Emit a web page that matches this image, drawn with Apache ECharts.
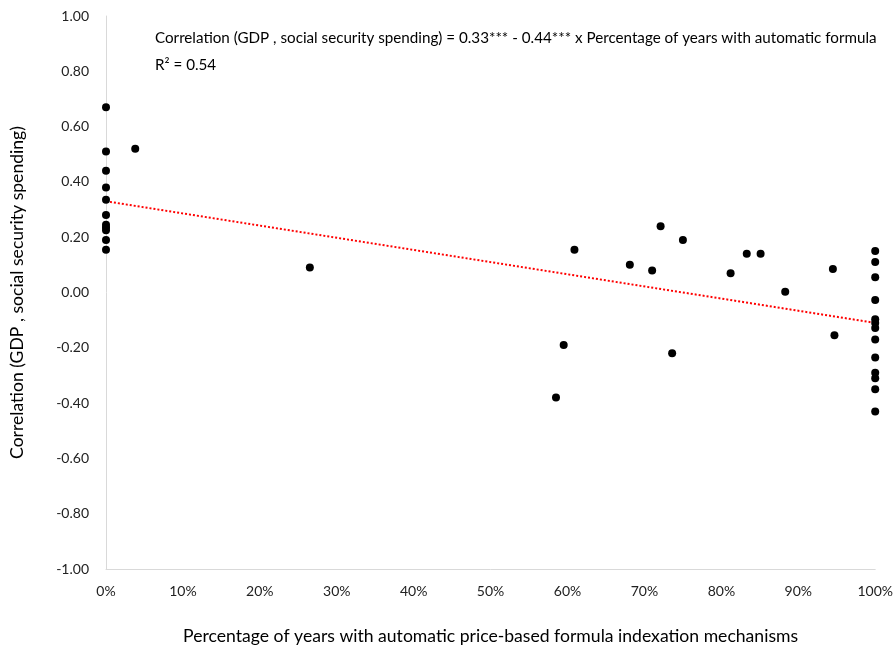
<!DOCTYPE html>
<html lang="en">
<head>
    <meta charset="UTF-8">
    <title>Correlation vs automatic indexation</title>
    <style>
        html, body { margin: 0; padding: 0; background: #fff; }
        #main { width: 896px; height: 651px; }
    </style>
</head>
<body>
    <div id="main"></div>
    <script src="https://cdn.jsdelivr.net/npm/echarts@6/dist/echarts.min.js"></script>
    <script>
    // share of years with automatic formula (0..1)
    var shareYears = [
        0, 0, 0, 0, 0, 0, 0, 0, 0, 0, 0,
        0.038, 0.265,
        0.585, 0.595, 0.609, 0.681, 0.710, 0.721, 0.736, 0.750,
        0.812, 0.833, 0.851, 0.883, 0.945, 0.947,
        1, 1, 1, 1, 1, 1, 1, 1, 1, 1, 1, 1, 1
    ];
    // correlation GDP / social security spending
    var corrValues = [
        0.67, 0.51, 0.44, 0.38, 0.335, 0.28, 0.245, 0.235, 0.225, 0.19, 0.155,
        0.52, 0.09,
        -0.38, -0.19, 0.155, 0.10, 0.08, 0.24, -0.22, 0.19,
        0.07, 0.14, 0.14, 0.003, 0.085, -0.155,
        0.15, 0.11, 0.055, -0.027, -0.097, -0.11, -0.128, -0.17, -0.235, -0.29, -0.31, -0.35, -0.43
    ];
    // fitted line: 0.33 - 0.44 x
    var intercept = 0.33;
    var slope = -0.44;
    var fitX = [0, 1];

    var points = [];
    for (var i = 0; i < shareYears.length; i++) {
        points.push([shareYears[i], corrValues[i]]);
    }
    var fitLine = fitX.map(function (x) { return [x, intercept + slope * x]; });

    var font = 'Lato, "Open Sans", sans-serif';
    var chart = echarts.init(document.getElementById('main'));
    chart.setOption({
        animation: false,
        textStyle: { fontFamily: font },
        grid: { left: 105, right: 19, top: 16, bottom: 82 },
        xAxis: {
            type: 'value',
            min: 0, max: 1, interval: 0.1,
            name: 'Percentage of years with automatic price-based formula indexation mechanisms',
            nameLocation: 'middle',
            nameGap: 58,
            nameTextStyle: { fontSize: 17.6, color: '#000', fontFamily: font },
            axisLine: { show: true, onZero: false, lineStyle: { color: '#d9d9d9', width: 1 } },
            axisTick: { show: false },
            splitLine: { show: false },
            axisLabel: {
                margin: 15, fontSize: 14, color: '#222', fontFamily: font,
                formatter: function (v) { return Math.round(v * 100) + '%'; }
            }
        },
        yAxis: {
            type: 'value',
            min: -1, max: 1, interval: 0.2,
            name: 'Correlation (GDP , social security spending)',
            nameLocation: 'middle',
            nameGap: 80,
            nameTextStyle: { fontSize: 17.6, color: '#000', fontFamily: font },
            axisLine: { show: true, onZero: false, lineStyle: { color: '#d9d9d9', width: 1 } },
            axisTick: { show: false },
            splitLine: { show: false },
            axisLabel: {
                margin: 17, fontSize: 14, color: '#222', fontFamily: font,
                formatter: function (v) { return v.toFixed(2); }
            }
        },
        graphic: [
            {
                type: 'text', left: 155, top: 31,
                style: {
                    text: 'Correlation (GDP , social security spending) = 0.33*** - 0.44*** x Percentage of years with automatic formula',
                    font: '15.2px ' + font, fill: '#000'
                }
            },
            {
                type: 'text', left: 155, top: 58,
                style: { text: 'R² = 0.54', font: '15.2px ' + font, fill: '#000' }
            }
        ],
        series: [
            {
                type: 'line',
                data: fitLine,
                symbol: 'none',
                lineStyle: { color: '#ff0000', width: 2, type: [2, 2] },
                z: 1
            },
            {
                type: 'scatter',
                data: points,
                symbolSize: 8,
                itemStyle: { color: '#000', opacity: 1 },
                z: 2
            }
        ]
    });
    </script>
</body>
</html>
